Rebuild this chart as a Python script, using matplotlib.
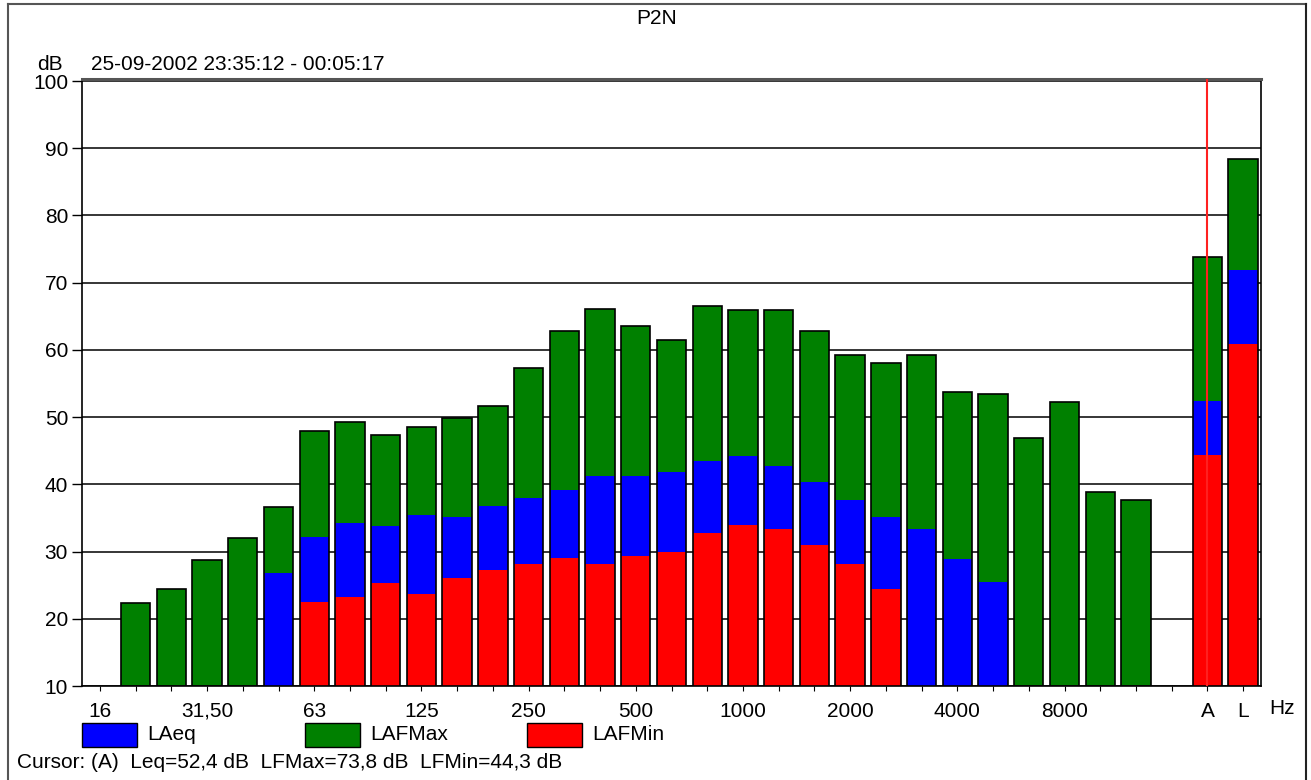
import numpy as np
import matplotlib
matplotlib.use("Agg")
import matplotlib.pyplot as plt
from matplotlib.patches import Rectangle
from matplotlib.lines import Line2D

# ---- data ----
bands = ["16", "20", "25", "31.5", "40", "50", "63", "80", "100", "125", "160",
         "200", "250", "315", "400", "500", "630", "800", "1000", "1250", "1600",
         "2000", "2500", "3150", "4000", "5000", "6300", "8000", "10000", "12500",
         "16000", "A", "L"]
nan = np.nan
lafmax = [nan, 22.3, 24.5, 28.7, 32.0, 36.6, 48.0, 49.3, 47.4, 48.5, 49.8,
          51.6, 57.3, 62.8, 66.1, 63.5, 61.4, 66.6, 66.0, 66.0, 62.8,
          59.3, 58.0, 59.3, 53.7, 53.5, 46.9, 52.3, 38.8, 37.7,
          nan, 73.8, 88.4]
laeq = [nan, nan, nan, nan, nan, 26.8, 32.1, 34.2, 33.8, 35.4, 35.1,
        36.8, 38.0, 39.2, 41.2, 41.2, 41.9, 43.4, 44.2, 42.7, 40.4,
        37.7, 35.1, 33.4, 28.9, 25.5, nan, nan, nan, nan,
        nan, 52.4, 71.9]
lafmin = [nan, nan, nan, nan, nan, nan, 22.5, 23.2, 25.3, 23.7, 26.1,
          27.3, 28.2, 29.1, 28.2, 29.4, 30.0, 32.7, 33.9, 33.3, 31.0,
          28.2, 24.4, nan, nan, nan, nan, nan, nan, nan,
          nan, 44.3, 60.9]
xtick_labels = {"16": "16", "31.5": "31,50", "63": "63", "125": "125", "250": "250",
                "500": "500", "1000": "1000", "2000": "2000", "4000": "4000",
                "8000": "8000", "A": "A", "L": "L"}
series_names = ["LAeq", "LAFMax", "LAFMin"]
cursor_band = "A"

# ---- style ----
W, H = 1311, 780
plt.rcParams["font.family"] = ["Liberation Sans", "DejaVu Sans"]
FS = 15
C_EQ, C_MAX, C_MIN = "#0000FF", "#008000", "#FF0000"

fig = plt.figure(figsize=(W / 100, H / 100), dpi=100)

def fx(x):
    return x / W

def fy(y):
    return 1 - y / H

ax_l, ax_r, ax_t, ax_b = 82, 1261, 79, 686
ax = fig.add_axes([fx(ax_l), fy(ax_b), fx(ax_r - ax_l), (ax_b - ax_t) / H])

x = np.arange(len(bands))
bw = 0.82
base = 10

def bars(vals, color, z):
    v = np.array(vals, dtype=float)
    m = ~np.isnan(v)
    ax.bar(x[m], v[m] - base, bottom=base, width=bw, color=color,
           linewidth=0, zorder=z)

bars(lafmax, C_MAX, 2)
bars(laeq, C_EQ, 3)
bars(lafmin, C_MIN, 4)
# outline around whole stacked bar
top = np.nanmax(np.vstack([lafmax, laeq, lafmin]), axis=0)
m = ~np.isnan(top)
ax.bar(x[m], top[m] - base, bottom=base, width=bw, facecolor="none",
       edgecolor="black", linewidth=1.2, zorder=5)

# cursor line
ax.axvline(bands.index(cursor_band), color="#FF2020", linewidth=1.5, zorder=6)

ax.set_xlim(-0.5, len(bands) - 0.5)
ax.set_ylim(10, 100.3)
ax.set_yticks(np.arange(10, 101, 10))
ax.set_yticklabels([str(v) for v in range(10, 101, 10)], fontsize=FS)
ax.yaxis.grid(True, color="black", linewidth=1.1, zorder=0)
ax.set_axisbelow(True)
ax.set_xticks(x)
ax.set_xticklabels([xtick_labels.get(b, "") for b in bands], fontsize=FS)
ax.tick_params(axis="y", length=7, width=1, pad=3, direction="out")
ax.tick_params(axis="x", length=3.5, width=0.8, pad=8, direction="out")
for s in ["left", "right", "bottom"]:
    ax.spines[s].set_color("black")
    ax.spines[s].set_linewidth(1.2)
ax.spines["top"].set_color("#555555")
ax.spines["top"].set_linewidth(2.2)

# ---- texts ----
fig.text(fx(657), fy(18), "P2N", ha="center", va="center", fontsize=FS)
fig.text(fx(63), fy(64), "dB", ha="right", va="center", fontsize=FS)
fig.text(fx(91), fy(64), "25-09-2002 23:35:12 - 00:05:17", ha="left",
         va="center", fontsize=FS)
fig.text(fx(1282), fy(709), "Hz", ha="center", va="center", fontsize=FS)

# legend
leg = [(82, C_EQ, series_names[0]), (305, C_MAX, series_names[1]),
       (527, C_MIN, series_names[2])]
for lx, col, name in leg:
    fig.add_artist(Rectangle((fx(lx), fy(747)), fx(55), 24 / H,
                             transform=fig.transFigure, facecolor=col,
                             edgecolor="black", linewidth=1.0))
    fig.text(fx(lx + 65), fy(735), name, ha="left", va="center", fontsize=FS)

ci = bands.index(cursor_band)
fig.text(fx(17), fy(763),
         "Cursor: (%s)  Leq=%s dB  LFMax=%s dB  LFMin=%s dB" % (
             cursor_band,
             ("%.1f" % laeq[ci]).replace(".", ","),
             ("%.1f" % lafmax[ci]).replace(".", ","),
             ("%.1f" % lafmin[ci]).replace(".", ",")),
         ha="left", va="center", fontsize=FS)

# outer frame
frame_col = "#555555"
fig.add_artist(Line2D([fx(8), fx(8)], [fy(4), 0], transform=fig.transFigure,
                      color=frame_col, linewidth=1.5))
fig.add_artist(Line2D([fx(8), fx(1306)], [fy(4), fy(4)], transform=fig.transFigure,
                      color=frame_col, linewidth=1.5))
fig.add_artist(Line2D([fx(1306), fx(1306)], [fy(4), 0], transform=fig.transFigure,
                      color="#222222", linewidth=1.5))

fig.savefig("out.png", dpi=100)
